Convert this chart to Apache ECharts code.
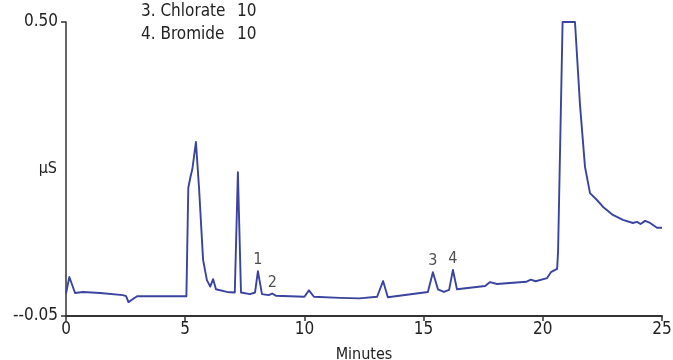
<!DOCTYPE html>
<html>
<head>
<meta charset="utf-8">
<script src="https://cdn.jsdelivr.net/npm/echarts@6/dist/echarts.min.js"></script>
<style>
  html, body { margin: 0; padding: 0; background: #fff; }
  #chart { width: 673px; height: 360px; }
</style>
</head>
<body>
<div id="chart"></div>
<script>
// chromatogram trace (minutes, µS)
const times = [
  0, 0.08, 0.14, 0.38, 0.71, 1.43, 2.39, 2.52, 2.62, 2.75, 2.98, 4.0, 5.05,
  5.13, 5.22, 5.30, 5.45, 5.58, 5.75, 5.91, 6.05, 6.17, 6.29, 6.75, 7.08,
  7.21, 7.34, 7.72, 7.93, 8.05, 8.22, 8.5, 8.65, 8.8, 10.0, 10.19, 10.4,
  11.5, 12.3, 13.05, 13.3, 13.5, 15.18, 15.39, 15.6, 15.85, 16.07, 16.23,
  16.4, 17.58, 17.79, 18.08, 19.3, 19.5, 19.7, 20.18, 20.34, 20.6, 20.64,
  20.83, 21.35, 21.56, 21.77, 21.98, 22.27, 22.53, 22.94, 23.36, 23.78,
  23.95, 24.1, 24.29, 24.5, 24.79, 25.0
];
const signal = [
  -0.008, -0.006, 0.023, -0.007, -0.005, -0.007, -0.011, -0.013, -0.024,
  -0.020, -0.013, -0.013, -0.013,
  0.19, 0.21, 0.225, 0.2755, 0.19, 0.055, 0.017, 0.005, 0.019, 0.0, -0.005,
  -0.006,
  0.219, -0.006, -0.009, -0.006, 0.034, -0.009, -0.011, -0.008, -0.012,
  -0.014, -0.002, -0.014,
  -0.016, -0.017, -0.014, 0.0154, -0.015, -0.005, 0.032, 0.0, -0.005,
  -0.001, 0.036,
  0.0, 0.006, 0.0135, 0.0098, 0.014, 0.018, 0.015, 0.021, 0.032, 0.038,
  0.07,
  0.5, 0.5, 0.345, 0.229, 0.18, 0.167, 0.154, 0.139, 0.130, 0.124,
  0.126, 0.122, 0.128, 0.124, 0.115, 0.115
];

// numbered peaks
const peakNames = ['1', '2', '3', '4'];
const peakTimes = [8.05, 8.65, 15.39, 16.23];
const peakValues = [0.034, -0.008, 0.032, 0.036];

// legend rows that show above the plot
const legendRows = ['3. Chlorate', '4. Bromide'];
const legendAmounts = ['10', '10'];

const xTicks = [0, 5, 10, 15, 20, 25];
const yTickValues = [-0.05, 0.5];
const yTickLabels = ['--0.05', '0.50'];
const yUnit = 'µS';

const font = '"Liberation Sans Narrow", "DejaVu Sans Condensed", sans-serif';
const lineColor = '#3a43a0';
const axisColor = '#333';

const chart = echarts.init(document.getElementById('chart'));

const option = {
  animation: false,
  textStyle: { fontFamily: font },
  grid: { left: 66, right: 11, top: 22, bottom: 44, outerBoundsMode: 'none', containLabel: false },
  xAxis: {
    type: 'value',
    min: 0,
    max: 25,
    interval: 5,
    name: 'Minutes',
    nameLocation: 'middle',
    nameGap: 31,
    nameTextStyle: { color: '#222', fontSize: 16, fontFamily: font },
    axisLine: { onZero: false, lineStyle: { color: axisColor, width: 2 } },
    axisTick: { length: 5, lineStyle: { color: axisColor, width: 1.5 } },
    axisLabel: {
      color: '#222', fontSize: 17, margin: 5, fontFamily: font,
      formatter: (v) => (xTicks.includes(v) ? String(v) : '')
    },
    splitLine: { show: false }
  },
  yAxis: {
    type: 'value',
    min: -0.05,
    max: 0.5,
    axisLine: { show: true, onZero: false, lineStyle: { color: axisColor, width: 1.5 } },
    axisTick: {
      show: true, length: 5, customValues: yTickValues,
      lineStyle: { color: axisColor, width: 1.5 }
    },
    axisLabel: {
      color: '#222', fontSize: 17, margin: 8, fontFamily: font,
      customValues: yTickValues,
      formatter: (v) => yTickLabels[yTickValues.findIndex((t) => Math.abs(t - v) < 1e-6)] || ''
    },
    splitLine: { show: false }
  },
  graphic: [
    {
      type: 'text', right: 673 - 57, top: 161,
      style: { text: yUnit, fill: '#222', font: '16px ' + font, textAlign: 'right' }
    }
  ].concat(legendRows.flatMap((row, i) => [
    {
      type: 'text', left: 141, top: 3 + i * 23,
      style: { text: row, fill: '#222', font: '17px ' + font }
    },
    {
      type: 'text', left: 237, top: 3 + i * 23,
      style: { text: legendAmounts[i], fill: '#222', font: '17px ' + font }
    }
  ])),
  series: [
    {
      type: 'line',
      data: times.map((t, i) => [t, signal[i]]),
      showSymbol: false,
      lineStyle: { color: lineColor, width: 1.9, join: 'round' },
      silent: true
    },
    {
      type: 'scatter',
      data: peakTimes.map((t, i) => ({ value: [t, peakValues[i]], name: peakNames[i] })),
      symbolSize: 0,
      silent: true,
      label: {
        show: true,
        position: 'top',
        distance: 3,
        formatter: (p) => p.name,
        color: '#222',
        fontSize: 16,
        fontFamily: font
      }
    }
  ]
};

chart.setOption(option);
</script>
</body>
</html>
